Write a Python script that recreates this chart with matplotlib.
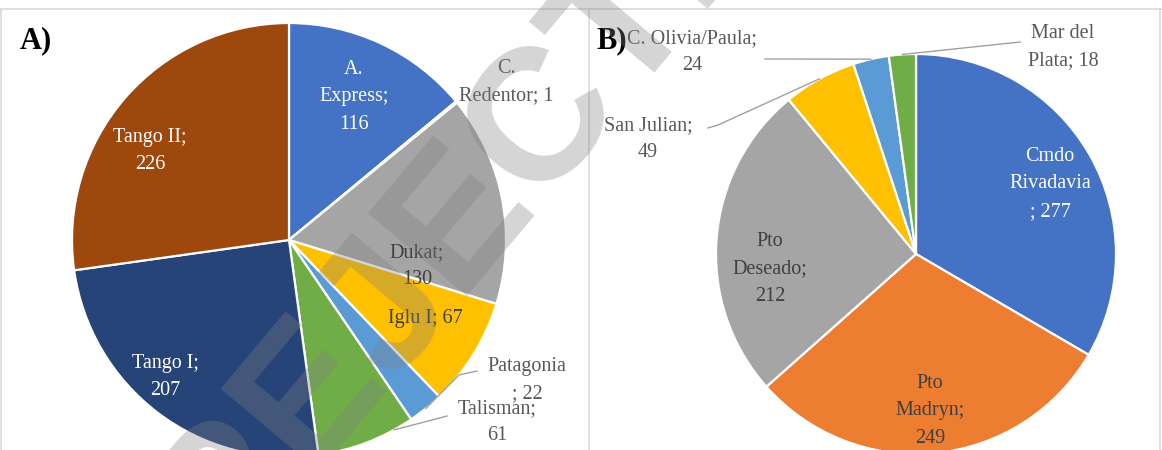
import matplotlib
matplotlib.use("Agg")
import matplotlib.pyplot as plt
import numpy as np

W, H = 1162, 450

# ---- Panel A: landings by vessel ----
vessels = ["A.\nExpress", "C.\nRedentor", "Dukat", "Iglu I", "Patagonia",
           "Talisman", "Tango I", "Tango II"]
vessel_counts = [116, 1, 130, 67, 22, 61, 207, 226]

# ---- Panel B: landings by port ----
ports = ["Cmdo\nRivadavia", "Pto\nMadryn", "Pto\nDeseado", "San Julian",
         "C. Olivia/Paula", "Mar del\nPlata"]
port_counts = [277, 249, 212, 49, 24, 18]

# Office palette
pal_a = ["#4472C4", "#ED7D31", "#A5A5A5", "#FFC000", "#5B9BD5", "#70AD47",
         "#264478", "#9E480E"]
pal_b = ["#4472C4", "#ED7D31", "#A5A5A5", "#FFC000", "#5B9BD5", "#70AD47"]

WHITE, DARK, GREY = "white", "#404040", "#595959"

# label layout: (x, y) in pixel coords from top-left, break style, colour
# break style: "nl" -> "name;\nvalue", "sp" -> "name; value", "pre" -> "name\n; value"
layout_a = [
    ((354, 97), "nl", WHITE),
    ((506, 82), "sp", GREY),
    ((417, 266), "nl", DARK),
    ((425, 319), "sp", DARK),
    ((527, 380), "pre", GREY),
    ((497, 422), "nl", GREY),
    ((165, 377), "nl", WHITE),
    ((150, 151), "nl", WHITE),
]
layout_b = [
    ((1050, 184), "pre", WHITE),
    ((930, 411), "nl", DARK),
    ((770, 269), "nl", DARK),
    ((648, 139), "nl", GREY),
    ((692, 52), "nl", GREY),
    ((1063, 47), "sp", GREY),
]
# leader lines: slice index -> (label-side points in px, position along slice 0..1)
leaders_a = {4: ([(477, 371), (459, 375)], 0.5),
             5: ([(447, 416), (432, 420)], 0.8)}
leaders_b = {3: ([(708, 128), (718, 125)], 0.5),
             4: ([(765, 59)], 0.5),
             5: ([(1020, 42)], 0.5)}

SERIF = ["Liberation Serif", "DejaVu Serif"]
FS = 14.5


def fmt(name, value, style):
    if style == "sp":
        return f"{name}; {value}"
    if style == "pre":
        return f"{name}\n; {value}"
    return f"{name};\n{value}"


def py(y):
    return H - y


fig = plt.figure(figsize=(W / 100, H / 100), dpi=100)
ax = fig.add_axes([0, 0, 1, 1])


def draw_pie(names, values, colors, center_px, radius, layout, leaders):
    c = (center_px[0], py(center_px[1]))
    wedges, _ = ax.pie(values, colors=colors, startangle=90, counterclock=False,
                       radius=radius, center=c,
                       wedgeprops=dict(edgecolor="white", linewidth=1.6))
    for name, val, (pos, style, col) in zip(names, values, layout):
        ax.text(pos[0], py(pos[1]), fmt(name, val, style), ha="center",
                va="center", fontsize=FS, color=col, family=SERIF,
                linespacing=1.6, zorder=5)
    for i, (pts, t) in leaders.items():
        w = wedges[i]
        ang = np.deg2rad(w.theta1 + t * (w.theta2 - w.theta1))
        ex, ey = c[0] + radius * np.cos(ang), c[1] + radius * np.sin(ang)
        xs = [p[0] for p in pts] + [ex]
        ys = [py(p[1]) for p in pts] + [ey]
        ax.plot(xs, ys, color="#a0a0a0", lw=1.0, zorder=4)
    return wedges


draw_pie(vessels, vessel_counts, pal_a, (289, 240), 217, layout_a, leaders_a)
draw_pie(ports, port_counts, pal_b, (916, 254), 200, layout_b, leaders_b)

# panel frames
frame = dict(color="#d9d9d9", lw=1.2, zorder=1)
ax.plot([0, W], [py(9), py(9)], **frame)
for x in (1, 589, 1160):
    ax.plot([x, x], [py(9), py(H + 5)], **frame)

# panel tags
ax.text(20, py(41), "A)", fontsize=22, fontweight="bold", family=SERIF,
        ha="left", va="center", zorder=6)
ax.text(596, py(41), "B)", fontsize=22, fontweight="bold", family=SERIF,
        ha="left", va="center", zorder=6)

# diagonal stamp
ax.text(505, py(160), "REJECTED", fontsize=135, fontweight="bold",
        family=["Liberation Sans", "DejaVu Sans"], color="#7f7f7f", alpha=0.33,
        rotation=50, ha="center", va="center", rotation_mode="anchor", zorder=7)

ax.set_xlim(0, W)
ax.set_ylim(0, H)
ax.set_aspect("equal")
ax.axis("off")

fig.savefig("out.png", dpi=100)
